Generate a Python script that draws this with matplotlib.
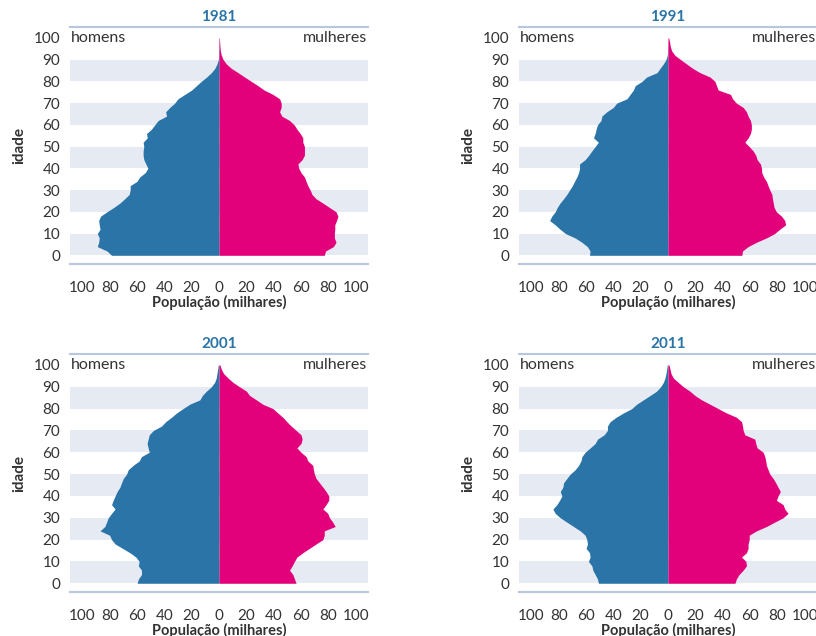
import matplotlib
matplotlib.use("Agg")
import matplotlib.pyplot as plt

plt.rcParams["font.family"] = ["Lato", "DejaVu Sans"]

ages = list(range(0, 101, 2))

homens_1981 = [78.6, 82, 89, 88, 87.6, 89, 87, 87.6, 88, 86.6, 82, 77, 72.5, 69, 65.7, 65, 65, 60, 58, 54,
               52, 53.5, 55, 55.5, 55.5, 55, 55.5, 52.5, 53, 49.4, 47, 44.5, 38.4, 39, 36, 32.4, 30, 25, 20,
               16.5, 13, 9, 5.6, 3, 1.5, 0.5, 0.3, 0.3, 0.2, 0.1, 0.0]
mulheres_1981 = [77, 78, 83.7, 85.6, 84.4, 84.4, 84.7, 84.7, 86, 87, 85.6, 80.8, 76, 71, 68, 66.7, 65, 63.7,
                 62.5, 60, 58.4, 57.7, 60.8, 62.5, 62.5, 62.5, 61.3, 61.3, 59.4, 57, 55, 51.6, 46, 44.3, 45.5,
                 45.5, 44.3, 39.4, 33, 28.5, 23.6, 18.7, 13.9, 9, 5.4, 3, 1.7, 1, 0.7, 0.5, 0.3]

homens_1991 = [57.4, 57, 59, 63, 68, 75, 79, 82.5, 86.6, 85, 82.5, 81, 79, 76.4, 74, 72, 70, 68.4, 66.7, 65.4,
               64.7, 64.7, 60.6, 58, 55.7, 53.3, 50.9, 54.5, 53.3, 52.6, 51.6, 49, 48.4, 44.8, 40, 37.5, 30,
               27.7, 25.3, 24, 19, 15.6, 8, 5.8, 3.4, 1.5, 0.5, 0.3, 0.2, 0.1, 0.0]
mulheres_1991 = [54, 54.5, 58.6, 64.7, 72, 78, 81.8, 86, 85.4, 83, 79.3, 77.6, 77, 76.4, 76, 74.5, 73.2, 72,
                 70, 68.6, 68.4, 67.6, 65.2, 64.2, 62.3, 59.4, 56.2, 58.6, 60.3, 61, 61, 60.3, 58.6, 57.4, 55,
                 50, 47.2, 45.7, 36.7, 35.5, 34.3, 30.7, 23.4, 18, 13.6, 9.2, 5, 2.7, 1.7, 1.2, 0.5]

homens_2001 = [59.9, 58.9, 56.7, 56.7, 59, 58.4, 60.8, 65.2, 70.6, 76, 78.6, 80, 87, 83.5, 82.2, 81, 78.6, 76,
               78.6, 77.4, 76, 74.5, 72.5, 71.3, 70, 67.6, 66.4, 62.8, 58.4, 56.7, 51, 51.8, 52.6, 51.8, 51,
               48, 42, 39, 34.8, 31, 26.3, 21.4, 14, 12.2, 9.2, 5.6, 3.2, 2, 1.5, 1, 0.5]
mulheres_2001 = [56.4, 55.2, 54, 51.6, 53.5, 55.2, 57, 61.3, 66.2, 71, 76, 77, 77, 85, 83.2, 80.8, 79.6, 76,
                 78.3, 80.3, 80.3, 78.3, 76, 73.5, 71, 69.8, 69.1, 68.6, 65, 63.7, 60, 57, 60, 60.8, 60, 56.4,
                 52.8, 49.6, 46.7, 43, 39.4, 32, 27.3, 22.4, 20, 15, 10.2, 6.6, 3.4, 1.7, 0.7]

homens_2011 = [50.9, 51.6, 53.3, 55, 55.7, 58.2, 57, 57.4, 59.9, 58.9, 59.4, 60.6, 64.2, 69.1, 74, 78.8, 82.5,
               84.2, 81.3, 79.3, 77.6, 78.8, 76.9, 76.4, 74, 71.5, 67.9, 65.4, 63.7, 63, 60.6, 56.9, 53.3, 51.6,
               46.7, 44.3, 44.3, 42.3, 38, 32.6, 26.5, 22.9, 18, 13.1, 8.3, 5.4, 3.4, 2.2, 1.5, 1, 0.5]
mulheres_2011 = [49, 50, 52, 55, 57.4, 57, 53.8, 57.4, 58.6, 58.6, 59.4, 59.4, 64.7, 72, 78, 84.2, 87.8, 85.4,
                 84.2, 79.3, 80.5, 82.2, 80.5, 78.8, 76.9, 74.5, 73.2, 72, 71.5, 70.8, 69.6, 65.2, 64.2, 63.5,
                 56.2, 55, 54.5, 53.8, 50.1, 42.8, 36.7, 30.7, 24.6, 19.7, 16, 11.2, 7.5, 3.9, 2.2, 1.5, 0.7]

anos = ["1981", "1991", "2001", "2011"]
homens = [homens_1981, homens_1991, homens_2001, homens_2011]
mulheres = [mulheres_1981, mulheres_1991, mulheres_2001, mulheres_2011]

x_ticks = [-100, -80, -60, -40, -20, 0, 20, 40, 60, 80, 100]
x_labels = ["100", "80", "60", "40", "20", "0", "20", "40", "60", "80", "100"]
y_ticks = list(range(0, 101, 10))

BLUE = "#2a74a8"
MAGENTA = "#e2007b"
BAND = "#e6eaf3"
RULE = "#b8c7dd"
TEXT = "#333333"

W, H = 816, 636
fig = plt.figure(figsize=(W / 100, H / 100), dpi=100)

# pixel boxes: left, top, right, bottom
boxes = [(70, 27, 368, 264), (519, 27, 817, 264), (70, 354, 368, 592), (519, 354, 817, 592)]

for box, ano, hom, mul in zip(boxes, anos, homens, mulheres):
    left, top, right, bottom = box
    ax = fig.add_axes([left / W, 1 - bottom / H, (right - left) / W, (bottom - top) / H])
    ax.set_xlim(-109, 109)
    ax.set_ylim(-4, 105)

    for start in range(0, 100, 20):
        ax.axhspan(start, start + 10, color=BAND, lw=0, zorder=0)

    ax.fill_betweenx(ages, [-v for v in hom], 0, color=BLUE, lw=0, zorder=2)
    ax.fill_betweenx(ages, 0, mul, color=MAGENTA, lw=0, zorder=2)

    for side in ("left", "right"):
        ax.spines[side].set_visible(False)
    for side in ("top", "bottom"):
        ax.spines[side].set_color(RULE)
        ax.spines[side].set_linewidth(1.5)

    ax.set_xticks(x_ticks)
    ax.set_xticklabels(x_labels)
    ax.set_yticks(y_ticks)
    ax.tick_params(length=0, labelsize=11, labelcolor=TEXT)
    ax.tick_params(axis="x", pad=12)
    ax.tick_params(axis="y", pad=7)

    ax.set_title(ano, fontsize=11, fontweight="bold", color=BLUE, pad=4)
    ax.set_xlabel("População (milhares)", fontsize=10.5, fontweight="bold", color=TEXT, labelpad=0)
    ax.set_ylabel("idade", fontsize=11, fontweight="bold", color=TEXT, labelpad=5)

    ax.text(-108, 100, "homens", ha="left", va="center", fontsize=11.5, color=TEXT, zorder=3)
    ax.text(108, 100, "mulheres", ha="right", va="center", fontsize=11.5, color=TEXT, zorder=3)

fig.savefig("out.png", dpi=100)
